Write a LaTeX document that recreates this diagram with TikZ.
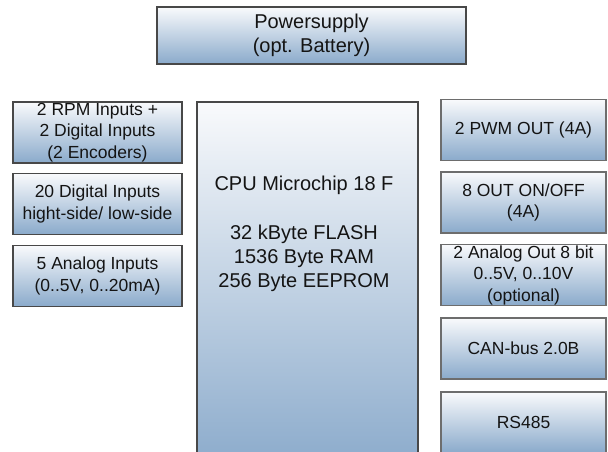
\documentclass[tikz,border=0pt]{standalone}
\usepackage{fontspec}
\setmainfont{Liberation Sans}
\definecolor{boxtop}{RGB}{249,250,252}
\definecolor{boxbottom}{RGB}{138,170,203}
\definecolor{boxline}{RGB}{72,72,72}
\definecolor{boxtext}{RGB}{20,20,20}
\begin{document}
\begin{tikzpicture}[x=1pt, y=-1pt,
	block/.style={draw=boxline, line width=1.2pt, top color=boxtop, bottom color=boxbottom, align=center, inner sep=0pt, text=boxtext},
	inbox/.style={block, minimum width=169pt, minimum height=61pt, font=\fontsize{17.5}{21.5}\selectfont},
	outbox/.style={block, draw=boxline!80, minimum width=165pt, minimum height=61pt, font=\fontsize{17.5}{21.5}\selectfont},
	bigfont/.style={font=\fontsize{20}{24}\selectfont, text=boxtext, align=center}]
	\useasboundingbox (0,0) rectangle (608,452);
	\clip (0,0) rectangle (608,452);
	% supply
	\node[block, minimum width=309pt, minimum height=57pt, bigfont] (power) at (311.5,35.5) {Powersupply\\(opt. Battery)};
	% inputs
	\node[inbox] (rpm) at (97.5,132.5) {2 RPM Inputs +\\2 Digital Inputs\\(2 Encoders)};
	\node[inbox] (digin) at (97.5,204) {20 Digital Inputs\\hight-side/ low-side};
	\node[inbox] (anin) at (97.5,276) {5 Analog Inputs\\(0..5V, 0..20mA)};
	% cpu
	\node[block, minimum width=221pt, minimum height=368pt] (cpu) at (307.5,286) {};
	\node[bigfont] (cpuinfo) at (304,234) {CPU Microchip 18 F\\[25pt]32 kByte FLASH\\1536 Byte RAM\\256 Byte EEPROM};
	% outputs
	\node[outbox] (pwm) at (523.5,130) {2 PWM OUT (4A)};
	\node[outbox] (onoff) at (523.5,202.5) {8 OUT ON/OFF\\(4A)};
	\node[outbox] (anout) at (523.5,275) {2 Analog Out 8 bit\\0..5V, 0..10V\\(optional)};
	\node[outbox] (can) at (523.5,348.5) {CAN-bus 2.0B};
	\node[outbox] (rs) at (523.5,422.5) {RS485};
\end{tikzpicture}
\end{document}
